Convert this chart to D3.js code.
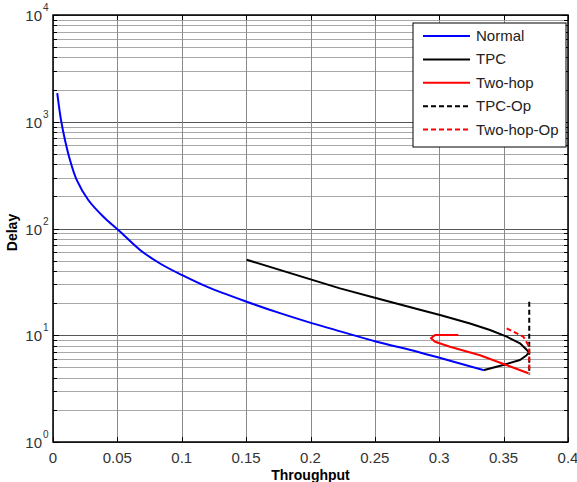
<!DOCTYPE html>
<html>
<head>
<meta charset="utf-8">
<script src="https://cdn.jsdelivr.net/npm/d3@7"></script>
<style>
  body { margin: 0; background: #fff; }
  text { font-family: "Liberation Sans", Arial, sans-serif; }
</style>
</head>
<body>
<div id="chart"></div>
<script>
// axis ticks
const xTicks = [0, 0.05, 0.1, 0.15, 0.2, 0.25, 0.3, 0.35, 0.4];
const xTickLabels = ['0', '0.05', '0.1', '0.15', '0.2', '0.25', '0.3', '0.35', '0.4'];
const yDecades = [1, 10, 100, 1000, 10000];
const yExponents = ['0', '1', '2', '3', '4'];

// series
const seriesNames = ['Normal', 'TPC', 'Two-hop', 'TPC-Op', 'Two-hop-Op'];

const normalThroughput = [0.0033, 0.0062, 0.0093, 0.0132, 0.0184, 0.0274, 0.0391, 0.0507, 0.0676, 0.0831,
  0.1000, 0.1194, 0.1504, 0.1763, 0.2009, 0.2151, 0.2514, 0.2850, 0.3342];
const normalDelay = [1850, 1040, 675, 438, 285, 185, 129, 97, 63, 47,
  36.7, 28.5, 20.6, 16.1, 13.0, 11.6, 8.7, 6.9, 4.72];

const tpcThroughput = [0.1504, 0.2229, 0.2514, 0.2850, 0.3006, 0.3239, 0.3394, 0.3524, 0.3627, 0.3679,
  0.3697, 0.3679, 0.3627, 0.3497, 0.3342];
const tpcDelay = [51, 27.5, 22.2, 17.3, 15.5, 12.9, 11.2, 9.7, 8.4, 7.3,
  6.9, 6.5, 5.87, 5.27, 4.7];

const twoHopThroughput = [0.3148, 0.2967, 0.2936, 0.2967, 0.3083, 0.3317, 0.3692];
const twoHopDelay = [10.05, 10.05, 9.36, 8.7, 7.8, 6.5, 4.4];

const tpcOpThroughput = [0.3699, 0.3699];
const tpcOpDelay = [20.6, 4.3];

const twoHopOpThroughput = [0.3524, 0.3653, 0.3699, 0.3699];
const twoHopOpDelay = [11.6, 9.7, 7.8, 4.4];

const seriesColors = ['#0000ff', '#000000', '#ff0000', '#000000', '#ff0000'];
const seriesDashed = [false, false, false, true, true];

const config = {
  width: 577,
  height: 482,
  margin: { top: 15, right: 9, bottom: 40, left: 53 },
};

const w = config.width - config.margin.left - config.margin.right;
const h = config.height - config.margin.top - config.margin.bottom;

const svg = d3.select('#chart').append('svg')
  .attr('width', config.width)
  .attr('height', config.height);

const g = svg.append('g')
  .attr('transform', `translate(${config.margin.left},${config.margin.top})`);

const xScale = d3.scaleLinear().domain([0, 0.4]).range([0, w]);
const yScale = d3.scaleLog().domain([1, 10000]).range([h, 0]);

// minor values for log grid
const minorVals = [];
yDecades.slice(0, -1).forEach((dec) => {
  for (let k = 2; k <= 9; k++) minorVals.push(dec * k);
});

// grid
g.append('g').selectAll('line.hminor')
  .data(minorVals)
  .join('line')
  .attr('x1', 0).attr('x2', w)
  .attr('y1', (d) => Math.round(yScale(d)) + 0.5)
  .attr('y2', (d) => Math.round(yScale(d)) + 0.5)
  .attr('stroke', '#a8a8a8')
  .attr('stroke-width', 1);

g.append('g').selectAll('line.hmajor')
  .data(yDecades)
  .join('line')
  .attr('x1', 0).attr('x2', w)
  .attr('y1', (d) => Math.round(yScale(d)) + 0.5)
  .attr('y2', (d) => Math.round(yScale(d)) + 0.5)
  .attr('stroke', '#555')
  .attr('stroke-width', 1);

g.append('g').selectAll('line.vgrid')
  .data(xTicks)
  .join('line')
  .attr('x1', (d) => Math.round(xScale(d)) + 0.5)
  .attr('x2', (d) => Math.round(xScale(d)) + 0.5)
  .attr('y1', 0).attr('y2', h)
  .attr('stroke', '#8a8a8a')
  .attr('stroke-width', 1);

// tick marks (inside, on all four sides)
const tickG = g.append('g').attr('stroke', '#000').attr('stroke-width', 1);
xTicks.forEach((t) => {
  const x = Math.round(xScale(t)) + 0.5;
  tickG.append('line').attr('x1', x).attr('x2', x).attr('y1', h).attr('y2', h - 5);
  tickG.append('line').attr('x1', x).attr('x2', x).attr('y1', 0).attr('y2', 5);
});
yDecades.concat(minorVals).forEach((v) => {
  const y = Math.round(yScale(v)) + 0.5;
  const len = yDecades.includes(v) ? 6 : 4;
  tickG.append('line').attr('x1', 0).attr('x2', len).attr('y1', y).attr('y2', y);
  tickG.append('line').attr('x1', w).attr('x2', w - len).attr('y1', y).attr('y2', y);
});

// tick labels
g.append('g').selectAll('text')
  .data(xTicks)
  .join('text')
  .attr('x', (d) => xScale(d))
  .attr('y', h + 21)
  .attr('text-anchor', 'middle')
  .attr('font-size', 15)
  .attr('fill', '#333')
  .text((d, i) => xTickLabels[i]);

const yl = g.append('g');
yDecades.forEach((v, i) => {
  const y = yScale(v);
  yl.append('text')
    .attr('x', -11)
    .attr('y', y + 6)
    .attr('text-anchor', 'end')
    .attr('font-size', 15)
    .attr('fill', '#333')
    .text('10');
  yl.append('text')
    .attr('x', -10)
    .attr('y', y - 4)
    .attr('font-size', 10)
    .attr('fill', '#333')
    .text(yExponents[i]);
});

// axis titles
svg.append('text')
  .attr('x', config.margin.left + w / 2)
  .attr('y', 480)
  .attr('text-anchor', 'middle')
  .attr('font-size', 14)
  .attr('font-weight', 'bold')
  .text('Throughput');

svg.append('text')
  .attr('transform', `translate(17, ${config.margin.top + h / 2 + 4}) rotate(-90)`)
  .attr('text-anchor', 'middle')
  .attr('font-size', 14)
  .attr('font-weight', 'bold')
  .text('Delay');

// curves
const line = d3.line()
  .x((d) => xScale(d[0]))
  .y((d) => yScale(d[1]));

const zip = (a, b) => a.map((v, i) => [v, b[i]]);
const seriesData = [
  zip(normalThroughput, normalDelay),
  zip(tpcThroughput, tpcDelay),
  zip(twoHopThroughput, twoHopDelay),
  zip(tpcOpThroughput, tpcOpDelay),
  zip(twoHopOpThroughput, twoHopOpDelay),
];

seriesData.forEach((pts, i) => {
  const curve = i === 0 ? d3.curveCatmullRom.alpha(0.5) : d3.curveLinear;
  g.append('path')
    .attr('d', line.curve(curve)(pts))
    .attr('fill', 'none')
    .attr('stroke', seriesColors[i])
    .attr('stroke-width', 2)
    .attr('stroke-linejoin', 'round')
    .attr('stroke-dasharray', seriesDashed[i] ? '5,3' : null);
});

// frame
g.append('rect')
  .attr('x', 0).attr('y', 0)
  .attr('width', w).attr('height', h)
  .attr('fill', 'none')
  .attr('stroke', '#000')
  .attr('stroke-width', 1.5);

// legend
const legend = svg.append('g').attr('transform', 'translate(413,23)');
legend.append('rect')
  .attr('width', 153).attr('height', 124)
  .attr('fill', '#fff')
  .attr('stroke', '#000')
  .attr('stroke-width', 1);

seriesNames.forEach((name, i) => {
  const y = 13 + i * 23.4;
  legend.append('line')
    .attr('x1', 10).attr('x2', 57)
    .attr('y1', y).attr('y2', y)
    .attr('stroke', seriesColors[i])
    .attr('stroke-width', 2)
    .attr('stroke-dasharray', seriesDashed[i] ? '5,3' : null);
  legend.append('text')
    .attr('x', 63)
    .attr('y', y + 5)
    .attr('font-size', 15)
    .attr('fill', '#222')
    .text(name);
});
</script>
</body>
</html>
